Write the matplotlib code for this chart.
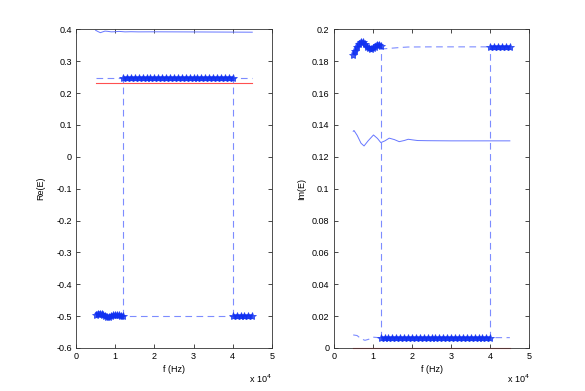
import matplotlib
matplotlib.use("Agg")
import matplotlib.pyplot as plt

plt.rcParams['font.family'] = ['Liberation Sans', 'DejaVu Sans']
plt.rcParams['axes.unicode_minus'] = True

# ---------------- data ----------------
f_span = [5000, 45000]
f_switch = [12000, 40000]

# Left panel: Re(E)
re_thin_f = [5000, 5600, 6200, 6800, 7400, 8200, 9000, 10000, 11000, 12500, 14000, 16000, 20000, 30000, 45000]
re_thin = [0.397, 0.393, 0.3895, 0.392, 0.3945, 0.3935, 0.392, 0.3925, 0.3935, 0.392, 0.3925, 0.392, 0.3922, 0.3918, 0.391]
re_red = [0.232, 0.232]
re_rootB = [0.246, 0.246]
re_rootA = [-0.5, -0.5]

re_A_start_f = [5000, 5500, 6000, 6500, 7000, 7500, 8000, 8500, 9000, 9500, 10000, 10500, 11000, 11500, 12000]
re_A_start = [-0.495, -0.493, -0.492, -0.494, -0.497, -0.500, -0.502, -0.502, -0.500, -0.498, -0.497, -0.497, -0.498, -0.499, -0.500]
re_A_end_f = [40000, 41000, 42000, 43000, 44000, 45000]
re_A_end = [-0.5, -0.5, -0.5, -0.5, -0.5, -0.5]
mid_f = [12000, 13000, 14000, 15000, 16000, 17000, 18000, 19000, 20000, 21000, 22000,
         23000, 24000, 25000, 26000, 27000, 28000, 29000, 30000, 31000, 32000, 33000,
         34000, 35000, 36000, 37000, 38000, 39000, 40000]
re_B_mid = [0.247] * len(mid_f)

# Right panel: Im(E)
im_thin_f = [5000, 5200, 6000, 7000, 7770, 8800, 10180, 11200, 12050, 13100, 14200, 15500, 16750,
             18000, 19060, 20200, 21460, 24000, 30000, 38000, 45000]
im_thin = [0.1360, 0.1365, 0.1335, 0.1285, 0.1268, 0.1300, 0.1337, 0.1315, 0.1289, 0.1300, 0.1317,
           0.1308, 0.1295, 0.1302, 0.1310, 0.1306, 0.1302, 0.1301, 0.1300, 0.1300, 0.1300]
im_red = [0.0, 0.0]

im_A_start_f = [5000, 5500, 6000, 6500, 7000, 7500, 8000, 8500, 9000, 9500, 10000, 10500, 11000, 11500, 12000]
im_A_start = [0.1840, 0.1862, 0.1890, 0.1910, 0.1920, 0.1918, 0.1905, 0.1890, 0.1880, 0.1876, 0.1880, 0.1892, 0.1902, 0.1903, 0.1898]
im_A_dash_f = [12000, 13000, 15000, 17000, 19000, 25000, 40000, 45000]
im_A_dash = [0.1878, 0.1878, 0.1882, 0.1886, 0.1889, 0.1890, 0.1890, 0.1890]
im_A_end_f = [40000, 41000, 42000, 43000, 44000, 45000]
im_A_end = [0.1892, 0.1892, 0.1892, 0.1892, 0.1892, 0.1892]

im_B_dash_f = [5000, 6000, 7000, 8000, 9000, 10000, 11000, 12000, 40000, 45000]
im_B_dash = [0.0082, 0.0078, 0.0058, 0.0048, 0.0055, 0.0068, 0.0066, 0.0062, 0.0065, 0.0065]
im_B_mid = [0.0065] * len(mid_f)

# ---------------- style ----------------
thin_c = '#6676ff'
dash_c = '#7d8cff'
thick_c = '#2a48ff'
red_c = '#ff5050'
dash = (0, (6, 4))


def thick(ax, x, y):
    ax.plot(x, y, '-', color=thick_c, lw=3.6, alpha=0.85, solid_capstyle='butt', zorder=3)
    ax.plot(x, y, ls='none', marker='*', ms=6, mew=0.6, color='#1030f0',
            alpha=0.8, zorder=4)


def style(ax, ylim, yticks):
    ax.set_xlim(0, 50000)
    ax.set_ylim(*ylim)
    ax.set_xticks([0, 10000, 20000, 30000, 40000, 50000])
    ax.set_xticklabels(['0', '1', '2', '3', '4', '5'])
    ax.set_yticks(yticks)
    ax.tick_params(direction='in', length=3, width=0.5, labelsize=6.5,
                   top=True, right=True, pad=3)
    for s in ax.spines.values():
        s.set_linewidth(0.6)
        s.set_color('#333333')
    ax.set_xlabel('f (Hz)', fontsize=6.5, labelpad=3)
    ax.text(1.0, -0.078, 'x 10$^4$', transform=ax.transAxes, fontsize=6.5,
            ha='right', va='top')


fig = plt.figure(figsize=(5.85, 3.91), dpi=100)
ax1 = fig.add_axes([0.13, 0.11, 0.3347, 0.815])
ax2 = fig.add_axes([0.5703, 0.11, 0.3347, 0.815])

# Left
ax1.plot(re_thin_f, re_thin, '-', color=thin_c, lw=0.7)
ax1.plot(f_span, re_red, '-', color=red_c, lw=0.8)
ax1.plot(f_span, re_rootB, color=dash_c, lw=0.8, linestyle=dash)
ax1.plot(f_span, re_rootA, color=dash_c, lw=0.8, linestyle=dash)
for fx in f_switch:
    ax1.plot([fx, fx], [re_rootA[0], re_rootB[0]], color=dash_c, lw=0.8, linestyle=dash)
thick(ax1, mid_f, re_B_mid)
thick(ax1, re_A_start_f, re_A_start)
thick(ax1, re_A_end_f, re_A_end)
style(ax1, (-0.6, 0.4), [-0.6, -0.5, -0.4, -0.3, -0.2, -0.1, 0, 0.1, 0.2, 0.3, 0.4])
ax1.set_yticklabels(['-0.6', '-0.5', '-0.4', '-0.3', '-0.2', '-0.1', '0', '0.1', '0.2', '0.3', '0.4'])
ax1.set_ylabel('Re(E)', fontsize=6.5, labelpad=8)

# Right
ax2.plot(im_thin_f, im_thin, '-', color=thin_c, lw=0.7)
ax2.plot(f_span, im_red, '-', color=red_c, lw=0.8, clip_on=False)
ax2.plot(im_A_dash_f, im_A_dash, color=dash_c, lw=0.8, linestyle=dash)
ax2.plot(im_B_dash_f, im_B_dash, color=dash_c, lw=0.8, linestyle=dash)
for fx in f_switch:
    ax2.plot([fx, fx], [im_B_mid[0], im_A_dash[-1]], color=dash_c, lw=0.8, linestyle=dash)
thick(ax2, mid_f, im_B_mid)
thick(ax2, im_A_start_f, im_A_start)
thick(ax2, im_A_end_f, im_A_end)
style(ax2, (0, 0.2), [0, 0.02, 0.04, 0.06, 0.08, 0.1, 0.12, 0.14, 0.16, 0.18, 0.2])
ax2.set_yticklabels(['0', '0.02', '0.04', '0.06', '0.08', '0.1', '0.12', '0.14', '0.16', '0.18', '0.2'])
ax2.set_ylabel('Im(E)', fontsize=6.5, labelpad=4)

fig.savefig('out.png', dpi=100)
